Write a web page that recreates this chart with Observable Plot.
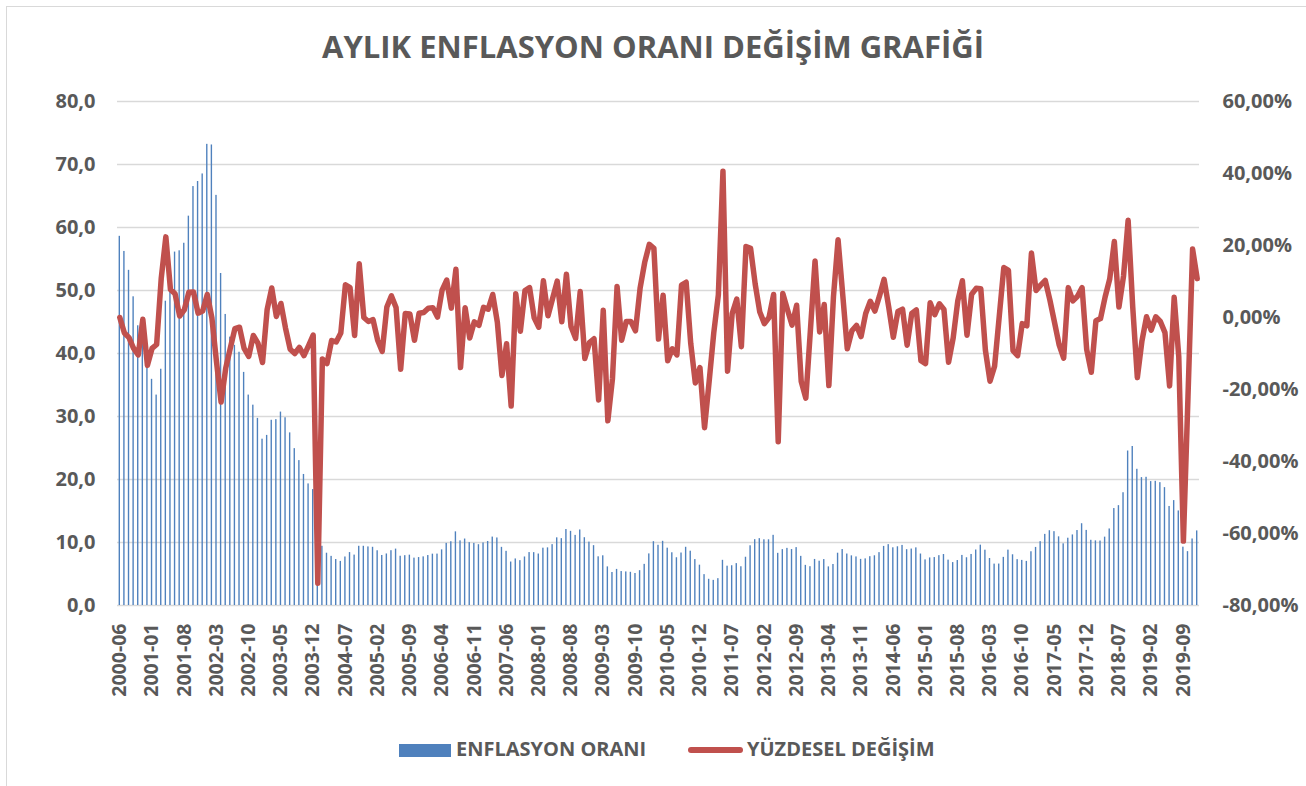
<!DOCTYPE html>
<html>
<head>
<meta charset="utf-8">
<script src="https://cdn.jsdelivr.net/npm/d3@7"></script>
<script src="https://cdn.jsdelivr.net/npm/@observablehq/plot@0.6"></script>
<style>
  html, body { margin: 0; padding: 0; background: #fff; }
  #wrap { position: relative; width: 1306px; height: 786px; overflow: hidden; font-family: "Open Sans", sans-serif; color: #595959; }
  #frame { position: absolute; left: 6px; top: 6px; width: 1400px; height: 900px; border: 1px solid #d9d9d9; box-sizing: border-box; }
  #title { position: absolute; left: 0; top: 26px; width: 1306px; text-align: center; font-weight: 700; font-size: 31px; line-height: 40px; white-space: nowrap; }
  #chart { position: absolute; left: 0; top: 0; }
  .leg-text { position: absolute; top: 737px; font-weight: 700; font-size: 20px; line-height: 24px; white-space: nowrap; }
  #leg-bar { position: absolute; left: 399px; top: 744px; width: 52px; height: 13px; background: #4f81bd; }
  #leg-line { position: absolute; left: 688px; top: 747px; width: 55px; height: 6px; border-radius: 3px; background: #c0504d; }
</style>
</head>
<body>
<div id="wrap">
  <div id="frame"></div>
  <div id="title"></div>
  <div id="chart"></div>
  <div id="leg-bar"></div>
  <div class="leg-text" id="leg1" style="left:456px"></div>
  <div id="leg-line"></div>
  <div class="leg-text" id="leg2" style="left:747px"></div>
</div>
<script>
// ---- Data ----
const chartTitle = "AYLIK ENFLASYON ORANI DEĞİŞİM GRAFİĞİ";
const seriesNames = ["ENFLASYON ORANI", "YÜZDESEL DEĞİŞİM"];

const years = [2000, 2001, 2002, 2003, 2004, 2005, 2006, 2007, 2008, 2009,
               2010, 2011, 2012, 2013, 2014, 2015, 2016, 2017, 2018, 2019];
const firstMonth = 6; // series starts in 2000-06

// Monthly inflation rate (left axis)
const enflasyonOrani = [
  /*2000*/ 58.6, 56.2, 53.2, 49.0, 44.4, 44.2, 39.0,
  /*2001*/ 35.9, 33.4, 37.5, 48.3, 52.4, 56.1, 56.3, 57.5, 61.8, 66.5, 67.3, 68.5,
  /*2002*/ 73.2, 73.1, 65.1, 52.7, 46.2, 42.6, 41.3, 40.2, 37.0, 33.4, 31.8, 29.7,
  /*2003*/ 26.4, 27.0, 29.4, 29.5, 30.7, 29.8, 27.4, 24.9, 23.0, 20.8, 19.3, 18.4,
  /*2004*/ 10.6, 9.4, 8.3, 7.8, 7.3, 7.0, 7.7, 8.4, 8.0, 9.4, 9.4, 9.3,
  /*2005*/ 9.24, 8.69, 7.94, 8.18, 8.70, 8.95, 7.82, 7.91, 7.99, 7.52, 7.61, 7.72,
  /*2006*/ 7.93, 8.15, 8.16, 8.83, 9.86, 10.12, 11.69, 10.26, 10.55, 9.98, 9.86, 9.65,
  /*2007*/ 9.93, 10.16, 10.86, 10.72, 9.23, 8.60, 6.90, 7.39, 7.12, 7.70, 8.40, 8.39,
  /*2008*/ 8.17, 9.10, 9.15, 9.66, 10.74, 10.61, 12.06, 11.77, 11.13, 11.99, 10.76, 10.06,
  /*2009*/ 9.50, 7.73, 7.89, 6.13, 5.24, 5.73, 5.39, 5.33, 5.27, 5.08, 5.53, 6.53,
  /*2010*/ 8.19, 10.13, 9.56, 10.19, 9.10, 8.37, 7.58, 8.33, 9.24, 8.62, 7.29, 6.40,
  /*2011*/ 4.90, 4.16, 3.99, 4.26, 7.17, 6.24, 6.31, 6.65, 6.15, 7.66, 9.48, 10.45,
  /*2012*/ 10.61, 10.43, 10.43, 11.14, 8.28, 8.87, 9.07, 8.88, 9.19, 7.80, 6.37, 6.16,
  /*2013*/ 7.31, 7.03, 7.29, 6.13, 6.51, 8.30, 8.88, 8.17, 7.88, 7.71, 7.32, 7.40,
  /*2014*/ 7.75, 7.89, 8.39, 9.38, 9.66, 9.16, 9.32, 9.54, 8.86, 8.96, 9.15, 8.17,
  /*2015*/ 7.24, 7.55, 7.61, 7.91, 8.09, 7.20, 6.81, 7.14, 7.95, 7.58, 8.10, 8.81,
  /*2016*/ 9.58, 8.78, 7.46, 6.57, 6.58, 7.64, 8.79, 8.05, 7.28, 7.16, 7.00, 8.53,
  /*2017*/ 9.22, 10.13, 11.29, 11.87, 11.72, 10.90, 9.79, 10.68, 11.20, 11.90, 12.98, 11.92,
  /*2018*/ 10.35, 10.26, 10.23, 10.85, 12.15, 15.39, 15.85, 17.90, 24.52, 25.24, 21.62, 20.30,
  /*2019*/ 20.35, 19.67, 19.71, 19.50, 18.71, 15.72, 16.65, 15.01, 9.26, 8.55, 10.56, 11.84
];

// Percentage change, in % (right axis)
const yuzdeselDegisim = [
  /*2000*/ 0, -4.3, -5.6, -8.6, -10.4, -0.5, -13.3,
  /*2001*/ -8.6, -7.5, 10.9, 22.4, 7.8, 6.6, 0.4, 2.1, 7.0, 7.1, 1.2, 1.8,
  /*2002*/ 6.4, -0.1, -12.3, -23.5, -14.1, -8.5, -3.1, -2.7, -8.6, -10.8, -5.0, -7.1,
  /*2003*/ -12.5, 2.2, 8.2, 0.3, 3.9, -3.0, -8.8, -10.0, -8.3, -10.6, -7.8, -4.9,
  /*2004*/ -73.8, -11.5, -12.8, -6.4, -6.8, -4.3, 9.1, 8.3, -5.0, 14.9, 0.0, -1.1,
  /*2005*/ -0.6, -6.3, -9.4, 2.9, 6.0, 2.8, -14.4, 1.1, 1.0, -6.3, 1.2, 1.4,
  /*2006*/ 2.6, 2.7, 0.1, 7.6, 10.4, 2.6, 13.4, -13.9, 2.7, -5.7, -1.2, -2.2,
  /*2007*/ 2.8, 2.3, 6.4, -1.3, -16.1, -7.3, -24.6, 6.6, -3.8, 7.5, 8.3, -0.1,
  /*2008*/ -2.7, 10.2, 0.5, 5.3, 10.1, -1.2, 12.0, -2.5, -5.8, 7.2, -11.4, -7.0,
  /*2009*/ -5.9, -22.9, 2.0, -28.7, -17.0, 8.6, -6.3, -1.1, -1.1, -3.7, 8.1, 15.3,
  /*2010*/ 20.3, 19.2, -6.0, 6.2, -12.0, -8.7, -10.4, 9.0, 9.8, -7.2, -18.2, -13.9,
  /*2011*/ -30.6, -17.8, -4.3, 6.3, 40.6, -14.9, 1.1, 5.1, -8.1, 19.7, 19.2, 9.3,
  /*2012*/ 1.5, -1.7, 0.0, 6.4, -34.5, 6.7, 2.2, -2.1, 3.4, -17.8, -22.4, -3.4,
  /*2013*/ 15.7, -4.0, 3.6, -18.9, 5.8, 21.6, 6.5, -8.7, -3.7, -2.2, -5.3, 1.1,
  /*2014*/ 4.5, 1.8, 6.0, 10.6, 2.9, -5.5, 1.7, 2.3, -7.7, 1.1, 2.1, -12.0,
  /*2015*/ -12.8, 4.1, 0.8, 3.8, 2.2, -12.4, -5.7, 4.6, 10.2, -4.9, 6.4, 8.1,
  /*2016*/ 8.0, -9.1, -17.7, -13.5, 0.2, 13.9, 13.1, -9.2, -10.6, -1.7, -2.3, 17.9,
  /*2017*/ 7.5, 9.0, 10.3, 4.9, -1.3, -7.5, -11.3, 8.3, 4.6, 5.9, 8.3, -8.9,
  /*2018*/ -15.2, -0.9, -0.3, 5.7, 10.7, 21.1, 2.9, 11.5, 27.0, 2.9, -16.7, -6.5,
  /*2019*/ 0.2, -3.5, 0.2, -1.1, -4.2, -19.0, 5.6, -10.9, -62.1, -22.0, 19.0, 10.8
];

const xTickLabels = ["2000-06","2001-01","2001-08","2002-03","2002-10","2003-05","2003-12",
  "2004-07","2005-02","2005-09","2006-04","2006-11","2007-06","2008-01","2008-08","2009-03",
  "2009-10","2010-05","2010-12","2011-07","2012-02","2012-09","2013-04","2013-11","2014-06",
  "2015-01","2015-08","2016-03","2016-10","2017-05","2017-12","2018-07","2019-02","2019-09"];
const leftTicks = [0, 10, 20, 30, 40, 50, 60, 70, 80];
const rightTicks = [-80, -60, -40, -20, 0, 20, 40, 60];

// ---- Build ----
const months = [];
for (const y of years) {
  for (let m = (y === years[0] ? firstMonth : 1); m <= 12; m++) {
    months.push(`${y}-${String(m).padStart(2, "0")}`);
  }
}
const data = months.map((m, i) => ({month: m, infl: enflasyonOrani[i], pct: yuzdeselDegisim[i]}));

// right axis (-80%..60%) shares the plot height with the left axis (0..80)
const L = [0, 80], R = [-80, 60];
const toLeft = p => (p - R[0]) * (L[1] - L[0]) / (R[1] - R[0]) + L[0];
const toRight = v => (v - L[0]) * (R[1] - R[0]) / (L[1] - L[0]) + R[0];

const W = 1306, H = 720;
const font = {fontSize: 20, fontWeight: "bold"};

const chart = Plot.plot({
  width: W,
  height: H,
  marginTop: 101,
  marginBottom: H - 605,
  marginLeft: 117,
  marginRight: W - 1199,
  style: {fontFamily: "'Open Sans', sans-serif", color: "#595959", background: "transparent", overflow: "visible"},
  x: {type: "band", domain: months, paddingInner: 0.7, paddingOuter: 0.35},
  y: {domain: L},
  marks: [
    Plot.ruleY(leftTicks, {stroke: "#d9d9d9", strokeWidth: 1.3}),
    Plot.barY(data, {x: "month", y: "infl", fill: "#4f81bd"}),
    Plot.line(data, {x: "month", y: d => toLeft(d.pct), stroke: "#c0504d", strokeWidth: 5.5,
      strokeLinejoin: "round", strokeLinecap: "round"}),
    Plot.axisY({anchor: "left", ticks: leftTicks, tickSize: 0, tickPadding: 22, label: null,
      tickFormat: d => d.toFixed(1).replace(".", ","), ...font}),
    Plot.axisY({anchor: "right", ticks: rightTicks.map(toLeft), tickSize: 0, tickPadding: 23, label: null,
      tickFormat: d => `${Math.round(toRight(d))},00%`, textAnchor: "start", ...font}),
    Plot.axisX({ticks: xTickLabels, tickRotate: -90, tickSize: 0, tickPadding: 18, label: null,
      fontSize: 19.5, fontWeight: "bold"})
  ]
});
document.getElementById("chart").appendChild(chart);
document.getElementById("title").textContent = chartTitle;
document.getElementById("leg1").textContent = seriesNames[0];
document.getElementById("leg2").textContent = seriesNames[1];
</script>
</body>
</html>
